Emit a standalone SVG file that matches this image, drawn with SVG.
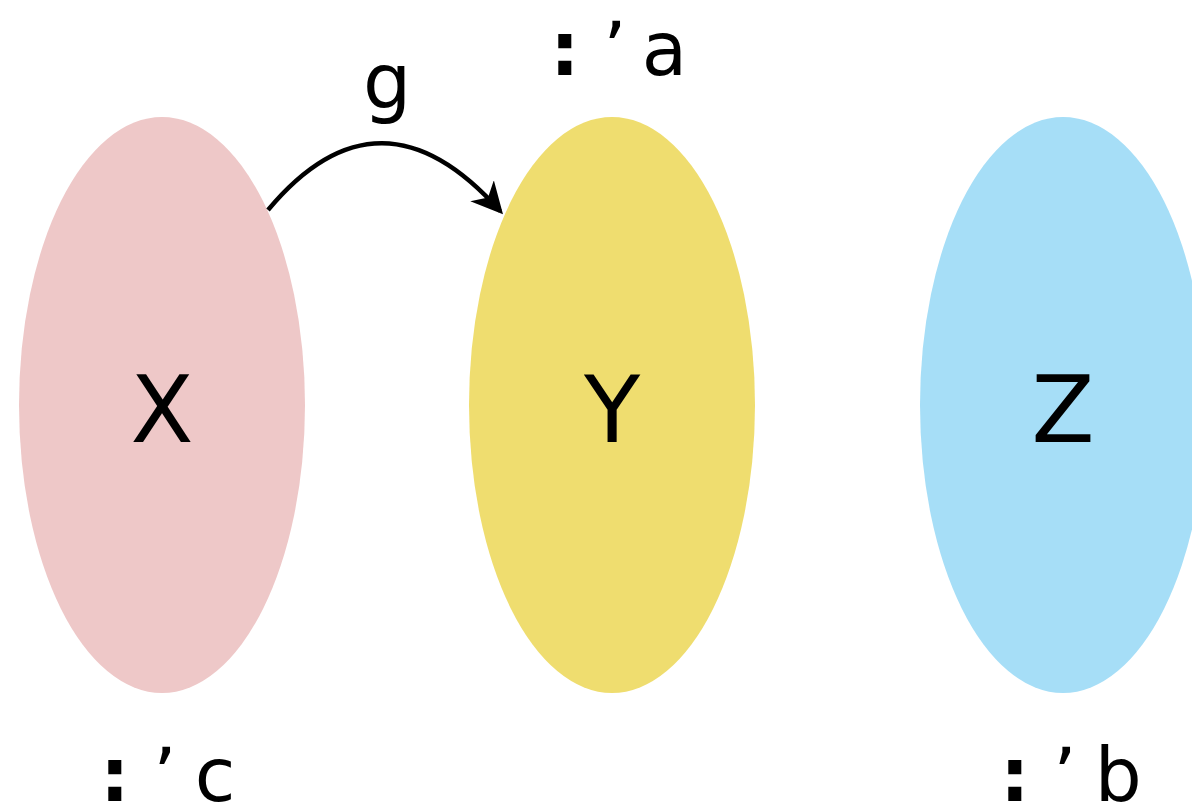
<svg xmlns="http://www.w3.org/2000/svg" width="1192" height="807" viewBox="0 0 1192 807">
<style>
.lbl{font-family:"DejaVu Sans",sans-serif;font-size:92px;fill:#000;text-anchor:middle}
.tag{font-family:"DejaVu Sans",sans-serif;font-size:74px;fill:#000}
.b{font-weight:bold}
</style>
<defs>
<marker id="ah" markerWidth="8" markerHeight="8" refX="6" refY="4" orient="auto" markerUnits="strokeWidth">
<path d="M0,0.5 L7,4 L0,7.5 L2,4 Z" fill="#000"/>
</marker>
</defs>
<rect width="1192" height="807" fill="#fff"/>
<g id="X">
<ellipse cx="162" cy="405" rx="143" ry="288" fill="#eec8c8"/>
<text class="lbl" x="162" y="442">X</text>
</g>
<g id="Y">
<ellipse cx="612" cy="405" rx="143" ry="288" fill="#efdd6f"/>
<text class="lbl" x="612" y="442">Y</text>
</g>
<g id="Z">
<ellipse cx="1063" cy="405" rx="143" ry="288" fill="#a6def7"/>
<text class="lbl" x="1063" y="442">Z</text>
</g>
<g id="tags">
<text class="tag" x="550" y="75"><tspan class="b">:</tspan> ’<tspan dx="15">a</tspan></text>
<text class="tag" x="100" y="801"><tspan class="b">:</tspan> ’<tspan dx="18">c</tspan></text>
<text class="tag" x="1000" y="801"><tspan class="b">:</tspan> ’<tspan dx="18">b</tspan></text>
</g>
<g id="connectors">
<path d="M268,210 Q380,76 500,211" fill="none" stroke="#000" stroke-width="4.5" marker-end="url(#ah)"/>
<text class="lbl" x="387" y="108" style="font-size:76px">g</text>
</g>
</svg>
